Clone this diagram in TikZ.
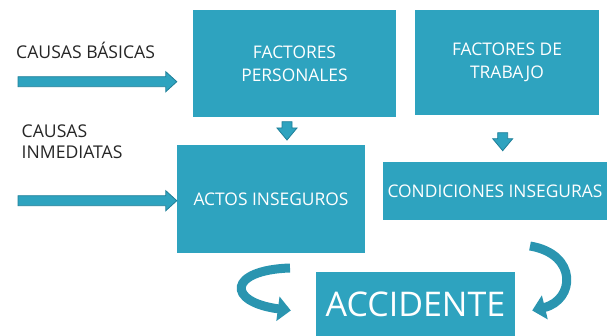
\documentclass[tikz,border=0pt]{standalone}
\usepackage{fontspec}
\setmainfont{Open Sans}
\usetikzlibrary{arrows.meta,calc}
\definecolor{boxc}{HTML}{2EA3BF}
\definecolor{boxdark}{HTML}{1F7F98}
\definecolor{curvec}{HTML}{2A95B0}
\newcommand\hblock[2]{%
  \draw[blockarrow] ($(#1)+(0,-5)$) -- ($(#2)+(-11,-5)$) -- ($(#2)+(-11,-10)$) -- (#2)
    -- ($(#2)+(-11,10)$) -- ($(#2)+(-11,5)$) -- ($(#1)+(0,5)$) -- cycle;}
\newcommand\vblock[2]{%
  \draw[blockarrow] ($(#1)+(-5,0)$) -- ($(#2)+(-5,-12)$) -- ($(#2)+(-10,-12)$) -- (#2)
    -- ($(#2)+(10,-12)$) -- ($(#2)+(5,-12)$) -- ($(#1)+(5,0)$) -- cycle;}
\begin{document}
\begin{tikzpicture}[x=1pt,y=-1pt,
  boxnode/.style={fill=boxc, text=white, align=center, inner sep=0pt,
    font=\fontsize{17.4}{23}\selectfont},
  sidelabel/.style={text=black!85, align=left, anchor=base west, inner sep=0pt,
    font=\fontsize{17.6}{20.7}\selectfont},
  blockarrow/.style={fill=boxc, draw=boxdark, line width=0.8pt, line join=miter},
  curvearrow/.style={draw=curvec, line width=9pt,
    -{Triangle[width=24pt,length=13pt]}}]
\useasboundingbox (0,0) rectangle (607,336);
% boxes
\node[boxnode, minimum width=203pt, minimum height=107pt] (fp) at (294.5,63.5) {FACTORES\\PERSONALES};
\node[boxnode, minimum width=184pt, minimum height=105pt] (ft) at (507,62.5) {FACTORES DE\\TRABAJO};
\node[boxnode, minimum width=188pt, minimum height=108pt] (ai) at (271,199) {ACTOS INSEGUROS};
\node[boxnode, minimum width=224pt, minimum height=58pt] (ci) at (495,191) {CONDICIONES INSEGURAS};
\node[boxnode, minimum width=199pt, minimum height=64pt, font=\fontsize{34}{40}\selectfont] (acc) at (415.5,304.5) {ACCIDENTE};
% side labels
\node[sidelabel] (cb) at (16,58.3) {CAUSAS BÁSICAS};
\node[sidelabel, anchor=north west] (cim) at (21.5,125) {CAUSAS\\INMEDIATAS};
% horizontal block arrows
\coordinate (s1) at (18,81.7);
\coordinate (t1) at ($(fp.west |- s1)+(-16,0)$);
\hblock{s1}{t1}
\coordinate (s2) at (18,200.7);
\coordinate (t2) at ($(ai.west |- s2)+(0,0)$);
\hblock{s2}{t2}
% vertical block arrows
\coordinate (d1) at (287,121.7);
\coordinate (e1) at (287,140);
\vblock{d1}{e1}
\coordinate (d2) at (502.7,132.7);
\coordinate (e2) at (502.7,150.7);
\vblock{d2}{e2}
% curved arrows
\coordinate (l1) at (290,268);
\coordinate (l2) at ($(acc.west)+(-25,6)$);
\draw[curvearrow] (l1) .. controls (228,270) and (226,302) .. (l2);
\coordinate (r1) at (530,246);
\coordinate (r2) at ($(acc.east)+(17,6)$);
\draw[curvearrow] (r1) .. controls (578,254) and (575,300) .. (r2);
\end{tikzpicture}
\end{document}
